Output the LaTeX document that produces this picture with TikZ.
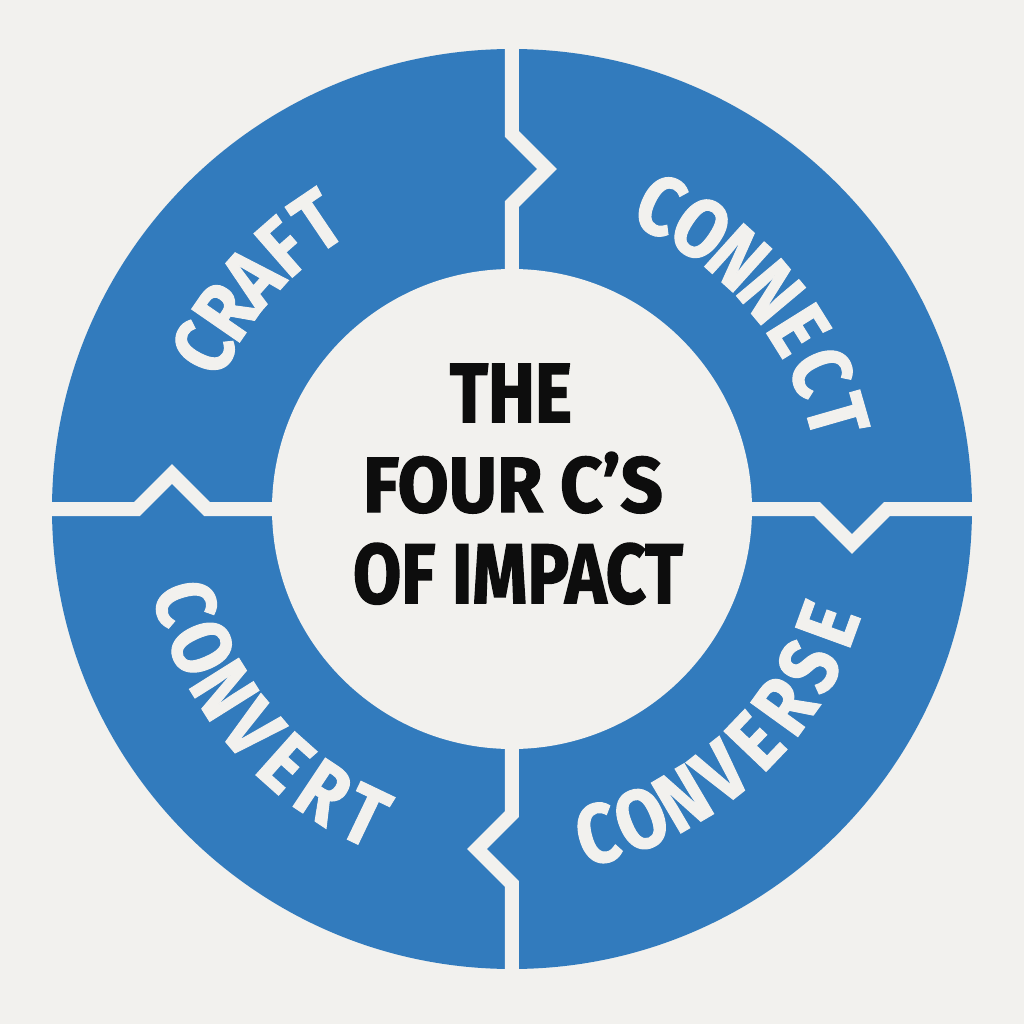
\documentclass[tikz,border=0pt]{standalone}
\usepackage{fontspec}
\newfontfamily\ringfont{Fira Sans}[FakeStretch=0.85,FakeBold=1.2]
\newfontfamily\titlefont{Fira Sans}[FakeBold=1.8]
\definecolor{bg}{HTML}{F2F1EE}
\definecolor{ringblue}{HTML}{327BBD}
\definecolor{ink}{HTML}{0D0D0D}
\tikzset{
  divider/.style={draw=bg, line width=7pt, line join=miter, miter limit=10},
  ringletter/.style={font=\ringfont\bfseries\fontsize{42}{42}\selectfont, text=bg,
    inner sep=0pt, text height=29pt, text depth=0pt, anchor=center},
  titleline/.style={font=\titlefont\bfseries\fontsize{44}{44}\selectfont, text=ink,
    inner sep=0pt, text height=30pt, text depth=0pt, anchor=center}
}
\begin{document}
\begin{tikzpicture}[x=0.5pt,y=0.5pt]
\fill[bg] (-512,-515) rectangle (512,509);
\useasboundingbox (-512,-515) rectangle (512,509);
% ring
\fill[ringblue] (0,0) circle (460);
\fill[bg] (0,0) circle (240);
% dividers with notches
\foreach \r in {0,-90,-180,-270}
  \draw[divider, rotate=\r] (0,480) -- (0,375) -- (35,340) -- (0,305) -- (0,225);
% ring words
\foreach \l [count=\i] in {C,R,A,F,T}{
  \pgfmathsetmacro\a{152.5-7.1*(\i-1)}
  \node[ringletter, rotate=\a-90] (craft\i) at (\a:348) {\l};
}
\foreach \l [count=\i] in {C,O,N,N,E,C,T}{
  \pgfmathsetmacro\a{64-8*(\i-1)}
  \node[ringletter, rotate=\a-90] (connect\i) at (\a:338) {\l};
}
\foreach \l [count=\i] in {C,O,N,V,E,R,T}{
  \pgfmathsetmacro\a{196+8.07*(\i-1)}
  \node[ringletter, rotate=\a+90] (convert\i) at (\a:340) {\l};
}
\foreach \l [count=\i] in {C,O,N,V,E,R,S,E}{
  \pgfmathsetmacro\a{284.7+7.9*(\i-1)}
  \node[ringletter, rotate=\a+90] (converse\i) at (\a:336) {\l};
}
% title
\node[titleline] (t1) at (-1,117) {\resizebox{61pt}{29pt}{THE}};
\node[titleline] (t2) at (1,27) {\resizebox{150pt}{30pt}{FOUR C’S}};
\node[titleline] (t3) at (6,-64) {\resizebox{165pt}{30pt}{OF IMPACT}};
\end{tikzpicture}
\end{document}
